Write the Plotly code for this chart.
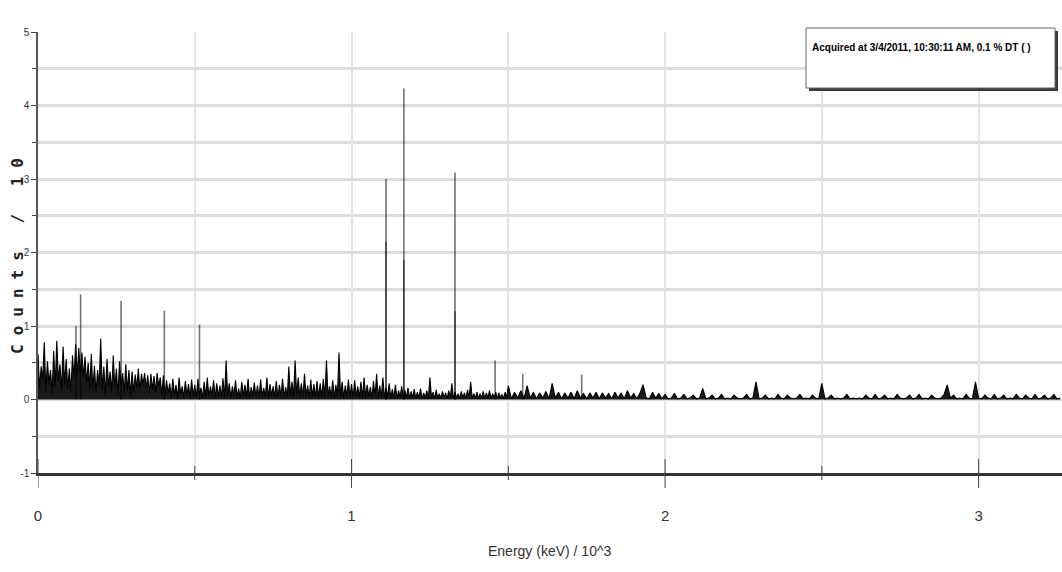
import plotly.graph_objects as go

# Spectrum (counts in units of 10) against energy (keV / 10^3).
# Fine channels below 1.5, coarser channels above.
fine_start, fine_step = 0.0, 0.005
fine_counts = [
    0.62, 0.15, 0.45, 0.28, 0.78, 0.10, 0.52, 0.22, 0.40, 0.08, 0.66, 0.18, 0.80, 0.25, 0.48, 0.12, 0.72, 0.20, 0.55, 0.14,
    0.42, 0.10, 0.60, 0.28, 0.75, 0.32, 0.70, 0.35, 0.64, 0.30, 0.58, 0.22, 0.50, 0.15, 0.62, 0.12, 0.46, 0.08, 0.40, 0.18,
    0.83, 0.12, 0.45, 0.06, 0.55, 0.18, 0.38, 0.10, 0.60, 0.15, 0.42, 0.05, 0.52, 0.20, 0.36, 0.08, 0.48, 0.12, 0.40, 0.06,
    0.38, 0.10, 0.34, 0.16, 0.42, 0.12, 0.35, 0.20, 0.36, 0.15, 0.33, 0.08, 0.35, 0.14, 0.32, 0.10, 0.36, 0.18, 0.30, 0.06,
    0.33, 0.05, 0.26, 0.08, 0.22, 0.03, 0.28, 0.06, 0.20, 0.02, 0.30, 0.07, 0.18, 0.03, 0.25, 0.05, 0.21, 0.02, 0.27, 0.04,
    0.20, 0.03, 0.28, 0.06, 0.16, 0.02, 0.24, 0.04, 0.30, 0.03, 0.18, 0.05, 0.26, 0.02, 0.22, 0.04, 0.19, 0.03, 0.29, 0.02,
    0.53, 0.04, 0.22, 0.02, 0.18, 0.05, 0.26, 0.03, 0.15, 0.02, 0.24, 0.04, 0.20, 0.03, 0.28, 0.02, 0.17, 0.05, 0.23, 0.03,
    0.19, 0.02, 0.27, 0.04, 0.16, 0.03, 0.30, 0.02, 0.21, 0.05, 0.18, 0.03, 0.25, 0.02, 0.20, 0.04, 0.28, 0.03, 0.17, 0.02,
    0.45, 0.05, 0.24, 0.03, 0.53, 0.06, 0.30, 0.04, 0.22, 0.03, 0.35, 0.05, 0.19, 0.02, 0.27, 0.04, 0.21, 0.03, 0.25, 0.02,
    0.22, 0.03, 0.28, 0.02, 0.53, 0.04, 0.18, 0.03, 0.26, 0.02, 0.20, 0.04, 0.64, 0.03, 0.24, 0.02, 0.19, 0.04, 0.27, 0.03,
    0.21, 0.02, 0.26, 0.04, 0.18, 0.03, 0.24, 0.02, 0.30, 0.03, 0.20, 0.04, 0.17, 0.02, 0.25, 0.03, 0.35, 0.02, 0.19, 0.03,
    0.30, 0.02, 0.16, 0.03, 0.22, 0.01, 0.14, 0.02, 0.20, 0.01, 0.12, 0.03, 0.18, 0.01, 0.13, 0.02, 0.16, 0.01, 0.11, 0.02,
    0.14, 0.01, 0.10, 0.02, 0.15, 0.01, 0.09, 0.02, 0.12, 0.01, 0.30, 0.02, 0.10, 0.01, 0.13, 0.02, 0.08, 0.01, 0.11, 0.02,
    0.09, 0.01, 0.12, 0.02, 0.22, 0.01, 0.10, 0.02, 0.08, 0.01, 0.11, 0.02, 0.09, 0.01, 0.13, 0.02, 0.24, 0.01, 0.08, 0.02,
    0.10, 0.01, 0.08, 0.02, 0.11, 0.01, 0.09, 0.02, 0.12, 0.01, 0.08, 0.02, 0.10, 0.01, 0.09, 0.02, 0.07, 0.01, 0.10, 0.02,
]
coarse_start, coarse_step = 1.50, 0.01
coarse_counts = [
    0.19, 0.01, 0.10, 0.02, 0.12, 0.01, 0.19, 0.02, 0.10, 0.01,
    0.09, 0.02, 0.11, 0.01, 0.22, 0.02, 0.10, 0.01, 0.09, 0.02,
    0.10, 0.01, 0.12, 0.02, 0.08, 0.01, 0.09, 0.02, 0.10, 0.01,
    0.09, 0.02, 0.08, 0.01, 0.10, 0.02, 0.09, 0.01, 0.12, 0.02,
    0.08, 0.01, 0.09, 0.20, 0.02, 0.01, 0.10, 0.02, 0.08, 0.01,
    0.07, 0.01, 0.02, 0.08, 0.01, 0.02, 0.07, 0.01, 0.02, 0.06,
    0.01, 0.02, 0.15, 0.01, 0.02, 0.06, 0.01, 0.02, 0.07, 0.01,
    0.02, 0.01, 0.06, 0.02, 0.01, 0.02, 0.07, 0.01, 0.02, 0.24,
    0.01, 0.02, 0.06, 0.01, 0.02, 0.01, 0.07, 0.02, 0.01, 0.06,
    0.02, 0.01, 0.02, 0.07, 0.01, 0.02, 0.01, 0.06, 0.02, 0.01,
    0.22, 0.01, 0.02, 0.06, 0.01, 0.02, 0.01, 0.02, 0.07, 0.01,
    0.02, 0.01, 0.02, 0.01, 0.06, 0.02, 0.01, 0.07, 0.01, 0.02,
    0.06, 0.01, 0.02, 0.01, 0.07, 0.02, 0.01, 0.02, 0.06, 0.01,
    0.02, 0.07, 0.01, 0.02, 0.01, 0.06, 0.02, 0.01, 0.02, 0.07,
    0.20, 0.02, 0.06, 0.01, 0.02, 0.01, 0.07, 0.02, 0.01, 0.24,
    0.02, 0.01, 0.06, 0.02, 0.01, 0.07, 0.01, 0.02, 0.06, 0.01,
    0.02, 0.01, 0.07, 0.02, 0.01, 0.06, 0.02, 0.01, 0.07, 0.01,
    0.02, 0.06, 0.01, 0.02, 0.07, 0.01, 0.02,
]

# Isolated photopeak lines (energy, counts); repeated energies are the neighbouring channel
peak_energy = [0.121, 0.136, 0.265, 0.403, 0.515,
               1.110, 1.110, 1.167, 1.167, 1.330, 1.330,
               1.458, 1.546, 1.734]
peak_counts = [1.00, 1.43, 1.34, 1.21, 1.02,
               3.00, 2.15, 4.23, 1.90, 3.09, 1.20,
               0.53, 0.35, 0.34]

x_tick_vals = [0, 1, 2, 3]
x_tick_text = ["0", "1", "2", "3"]
x_minor_vals = [0.5, 1.5, 2.5]
y_tick_vals = [-1, 0, 1, 2, 3, 4, 5]
y_tick_text = ["-1", "0", "1", "2", "3", "4", "5"]

x_title = "Energy (keV) / 10^3"
y_title = "Counts / 10"
acq_label = "Acquired at 3/4/2011, 10:30:11 AM, 0.1 % DT ( )"

SANS = "Liberation Sans, Arial, sans-serif"

energy = ([fine_start + i * fine_step for i in range(len(fine_counts))]
          + [coarse_start + i * coarse_step for i in range(len(coarse_counts))])
counts = fine_counts + coarse_counts

stem_x, stem_y = [], []
for e, c in zip(peak_energy, peak_counts):
    stem_x += [e, e, None]
    stem_y += [0, c, None]

fig = go.Figure()
fig.add_trace(go.Scatter(
    x=energy, y=counts, mode="lines",
    line=dict(color="#000000", width=1.1, simplify=False),
    fill="tozeroy", fillcolor="rgba(0,0,0,0.9)",
    hoverinfo="skip", showlegend=False,
))
fig.add_trace(go.Scatter(
    x=stem_x, y=stem_y, mode="lines",
    line=dict(color="rgba(0,0,0,0.55)", width=1.6, simplify=False),
    hoverinfo="skip", showlegend=False,
))

W, H = 1062, 572
ML, MR, MT, MB = 38, 0, 32, 99
PW, PH = W - ML - MR, H - MT - MB


def px(xp):
    return (xp - ML) / PW


def py(yp):
    return (H - MB - yp) / PH


shapes = []
# ticks crossing the energy axis line
for v in x_tick_vals:
    shapes.append(dict(type="line", xref="x", yref="paper", ysizemode="pixel",
                       yanchor=0, x0=v, x1=v, y0=-15, y1=14,
                       line=dict(color="#444444", width=1)))
for v in x_minor_vals:
    shapes.append(dict(type="line", xref="x", yref="paper", ysizemode="pixel",
                       yanchor=0, x0=v, x1=v, y0=-7, y1=7,
                       line=dict(color="#444444", width=1)))
# acquisition info box with drop shadow
shapes.append(dict(type="rect", xref="paper", yref="paper",
                   x0=px(809), x1=px(1058), y0=py(91), y1=py(31),
                   fillcolor="#3a3a3a", line=dict(width=0), layer="above"))
shapes.append(dict(type="rect", xref="paper", yref="paper",
                   x0=px(806), x1=px(1055), y0=py(88), y1=py(28),
                   fillcolor="#ffffff", line=dict(color="#666666", width=1),
                   layer="above"))

annotations = [
    dict(text=acq_label, xref="paper", yref="paper", x=px(810), y=py(47),
         xanchor="left", yanchor="middle", showarrow=False,
         font=dict(family=SANS, size=10, color="#000000", weight="bold")),
    dict(text=x_title, xref="paper", yref="paper", x=px(550), y=py(551),
         xanchor="center", yanchor="middle", showarrow=False,
         font=dict(family=SANS, size=14, color="#333333")),
    dict(text='<span style="letter-spacing:9px">' + y_title + "</span>",
         xref="paper", yref="paper", x=px(17), y=py(252),
         xanchor="center", yanchor="middle", textangle=-90, showarrow=False,
         font=dict(family="DejaVu Sans Mono, monospace", size=16,
                   color="#222222", weight="bold")),
]

fig.update_layout(
    width=W, height=H, autosize=False,
    margin=dict(l=ML, r=MR, t=MT, b=MB, pad=0),
    paper_bgcolor="#ffffff", plot_bgcolor="#ffffff",
    showlegend=False,
    shapes=shapes, annotations=annotations,
    xaxis=dict(
        range=[0, 3.266], tickvals=x_tick_vals, ticktext=x_tick_text,
        showgrid=True, gridcolor="#e4e4e4", gridwidth=1.5,
        minor=dict(tickvals=x_minor_vals, showgrid=True,
                   gridcolor="#e4e4e4", gridwidth=1.5),
        zeroline=False, showline=True, linecolor="#333333", linewidth=3,
        ticks="", ticklabelstandoff=27,
        tickfont=dict(family=SANS, size=15, color="#333333"),
    ),
    yaxis=dict(
        range=[-1, 5], tickvals=y_tick_vals, ticktext=y_tick_text,
        showgrid=True, gridcolor="#dcdcdc", gridwidth=2.5,
        minor=dict(dtick=0.5, tick0=0, showgrid=True, gridcolor="#dcdcdc",
                   gridwidth=2.5, ticks="outside", ticklen=4, tickcolor="#444444"),
        zeroline=False, showline=True, linecolor="#555555", linewidth=1.5,
        ticks="outside", ticklen=5, tickcolor="#444444",
        tickfont=dict(family=SANS, size=10, color="#333333"),
    ),
)

fig.write_html("out.html")
